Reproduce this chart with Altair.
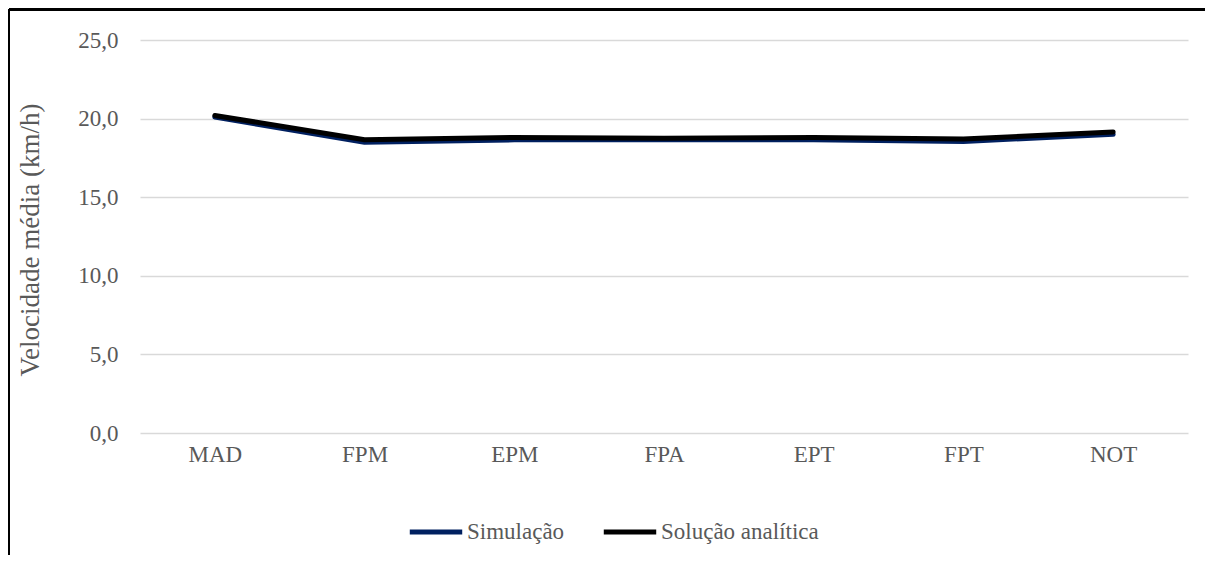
import altair as alt
import pandas as pd

categories = ["MAD", "FPM", "EPM", "FPA", "EPT", "FPT", "NOT"]
simulacao = [20.1, 18.5, 18.65, 18.65, 18.65, 18.55, 19.0]
solucao_analitica = [20.2, 18.65, 18.8, 18.75, 18.8, 18.7, 19.15]
series_names = ["Simulação", "Solução analítica"]
series_colors = ["#002060", "#000000"]
y_ticks = [0, 5, 10, 15, 20, 25]

rows = []
for i, c in enumerate(categories):
    rows.append({"cat": c, "serie": series_names[0], "v": simulacao[i], "ord": 0})
    rows.append({"cat": c, "serie": series_names[1], "v": solucao_analitica[i], "ord": 1})
df = pd.DataFrame(rows)

FONT = "Liberation Serif"
GRAY = "#595959"
FS = 23
W, H = 1048, 393
PL, PT = 132, 32

lines = alt.Chart(df).mark_line(strokeWidth=5, strokeCap="round", strokeJoin="round").encode(
    x=alt.X("cat:N", sort=categories, scale=alt.Scale(type="point", padding=0.5),
            axis=alt.Axis(title=None, domain=False, ticks=False, grid=False, labelAngle=0,
                          labelPadding=10, labelFont=FONT, labelFontSize=FS, labelColor=GRAY)),
    y=alt.Y("v:Q", scale=alt.Scale(domain=[0, 25], nice=False),
            axis=alt.Axis(values=y_ticks, title="Velocidade média (km/h)", domain=False, ticks=False,
                          labelExpr="replace(format(datum.value, '.1f'), '.', ',')",
                          labelPadding=22, labelFont=FONT, labelFontSize=FS, labelColor=GRAY,
                          titleFont=FONT, titleFontSize=27, titleColor=GRAY, titleFontWeight="normal",
                          titleX=-96, titleY=H / 2 + 3, titleAlign="center", titleBaseline="bottom",
                          titleAngle=270)),
    color=alt.Color("serie:N", sort=series_names,
                    scale=alt.Scale(domain=series_names, range=series_colors),
                    legend=alt.Legend(title=None, orient="none", direction="horizontal",
                                      legendX=267, legendY=463, symbolType="stroke",
                                      symbolSize=2750, symbolStrokeWidth=5,
                                      labelFont=FONT, labelFontSize=FS, labelColor=GRAY,
                                      labelOffset=2, columnPadding=28)),
    order=alt.Order("ord:Q"),
    detail="serie:N",
)

left_border = alt.Chart(df).mark_rule(color="black", strokeWidth=2).encode(
    x=alt.value(-PL + 1), y=alt.value(-PT + 1.5), y2=alt.value(700)
)
top_border = alt.Chart(df).mark_rule(color="black", strokeWidth=2).encode(
    x=alt.value(-PL + 1), x2=alt.value(1300), y=alt.value(-PT + 1.5)
)

chart = alt.layer(lines, left_border, top_border).properties(
    width=W, height=H,
    autosize=alt.AutoSizeParams(type="none"),
    padding={"left": PL, "top": PT, "right": 1197 - PL - W, "bottom": 547 - PT - H},
).configure(font=FONT).configure_view(stroke=None).configure_axis(
    gridColor="#d9d9d9", gridWidth=1.3,
).configure_axisY(grid=True)

chart.save("out.html", embed_options={"renderer": "svg", "actions": False})
